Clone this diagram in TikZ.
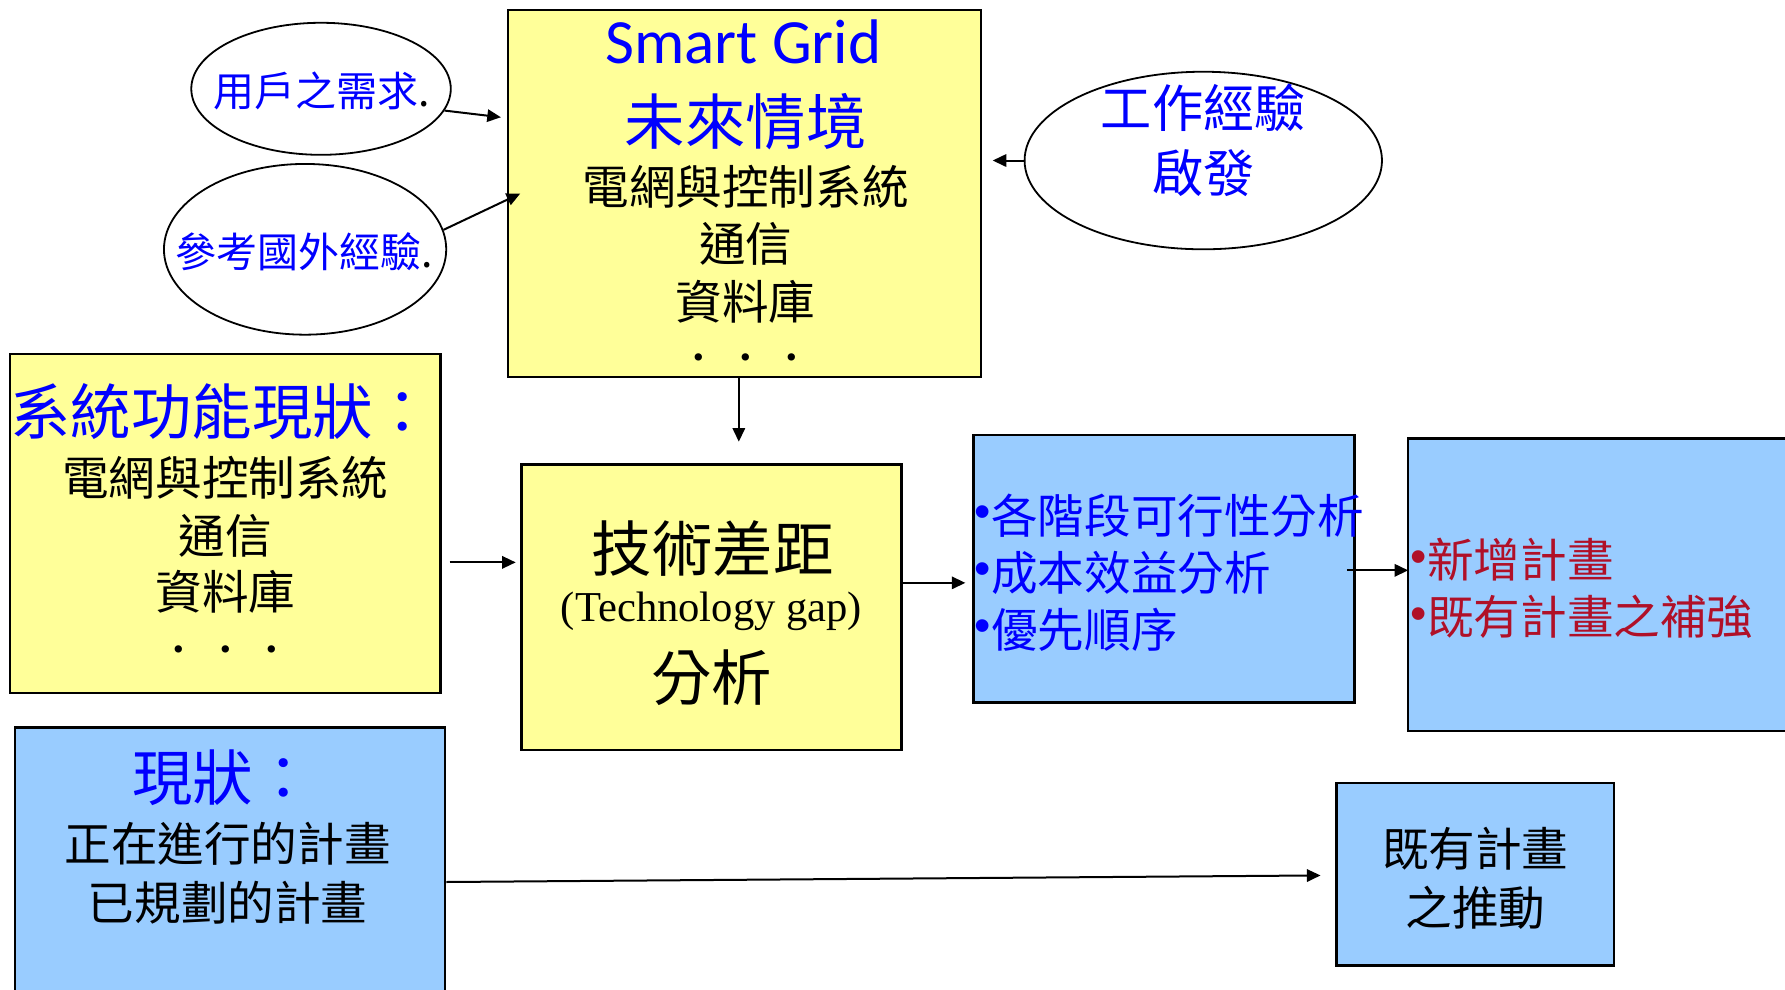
\documentclass[tikz,border=0pt]{standalone}
\usepackage{fontspec}
\newfontfamily\cjkfont{Noto Sans CJK TC}
\newfontfamily\calibrifont{Carlito}
\newfontfamily\timesfont{Liberation Serif}
\newfontfamily\arialfont{Liberation Sans}
\usetikzlibrary{arrows.meta,shapes.geometric}
\definecolor{boxyellow}{RGB}{255,255,153}
\definecolor{boxblue}{RGB}{153,204,255}
\definecolor{planred}{RGB}{176,16,40}
\newcommand\dotitem{{\arialfont\raisebox{0.12em}{•}}}
\tikzset{
  ybox/.style={draw=black, line width=1.2pt, fill=boxyellow},
  bbox/.style={draw=black, line width=1.2pt, fill=boxblue},
  oval/.style={ellipse, draw, line width=0.9pt},
  txt/.style={inner sep=0pt, font=\cjkfont\fontsize{23.3}{28}\selectfont},
  small/.style={inner sep=0pt, text=blue, font=\cjkfont\fontsize{20.5}{24}\selectfont},
  head/.style={inner sep=0pt, text=blue, font=\cjkfont\fontsize{30.2}{36}\selectfont},
  arr/.style={-{Triangle[length=6.8pt,width=6.2pt]}, line width=1pt}
}
\begin{document}
\begin{tikzpicture}[x=0.02cm,y=-0.02cm]
  \useasboundingbox (0,0) rectangle (1568,869);
  \clip (0,0) rectangle (1568,869);

  \node[ybox, minimum width=8.32cm, minimum height=6.44cm] (grid) at (654,170) {};
  \node[ybox, minimum width=7.56cm, minimum height=5.96cm] (status) at (198,460) {};
  \node[ybox, minimum width=6.68cm, minimum height=5.02cm] (gap) at (625,533.5) {};
  \node[bbox, minimum width=6.70cm, minimum height=4.70cm] (analysis) at (1022.5,499.5) {};
  \node[bbox, minimum width=7.26cm, minimum height=5.14cm] (plans) at (1418.5,513.5) {};
  \node[bbox, minimum width=7.56cm, minimum height=5.22cm] (current) at (202,769.5) {};
  \node[bbox, minimum width=4.88cm, minimum height=3.20cm] (promote) at (1296,768) {};
  \node[oval, minimum width=4.56cm, minimum height=2.32cm] (need) at (282,78) {};
  \node[oval, minimum width=4.96cm, minimum height=3.00cm] (abroad) at (268,219) {};
  \node[oval, minimum width=6.28cm, minimum height=3.12cm] (work) at (1057,141) {};

  \node[inner sep=0pt, text=blue, font=\calibrifont\fontsize{31.5}{36}\selectfont] (gridtitle) at (653,37) {Smart Grid};
  \node[head] (future) at (655,107) {未來情境};
  \node[txt] (gridnet) at (655,164) {電網與控制系統};
  \node[txt] (gridcom) at (655,214) {通信};
  \node[txt] (griddb) at (655,265) {資料庫};
  \node[txt] (griddots) at (655,320) {．．．};

  \node[small] (needtxt) at (283,80) {用戶之需求{\color{black}.}};
  \node[small] (abroadtxt) at (267,221) {參考國外經驗{\color{black}.}};
  \node[small, font=\cjkfont\fontsize{25.6}{30}\selectfont] (worktxt) at (1057,95) {工作經驗};
  \node[small, font=\cjkfont\fontsize{25.6}{30}\selectfont] (hinttxt) at (1057,152) {啟發};

  \node[head] (statustitle) at (195,362) {系統功能現狀：};
  \node[txt] (statusnet) at (198,420) {電網與控制系統};
  \node[txt] (statuscom) at (198,471) {通信};
  \node[txt] (statusdb) at (198,520) {資料庫};
  \node[txt] (statusdots) at (198,577) {．．．};

  \node[head, text=black] (gaptitle) at (626,482) {技術差距};
  \node[inner sep=0pt, font=\timesfont\fontsize{21.3}{26}\selectfont] (gapen) at (625,537) {(Technology gap)};
  \node[head, text=black] (gapsub) at (625,595) {分析};

  \node[txt, text=blue, anchor=west] (stages) at (856,453) {\dotitem 各階段可行性分析};
  \node[txt, text=blue, anchor=west] (cost) at (856,503) {\dotitem 成本效益分析};
  \node[txt, text=blue, anchor=west] (order) at (856,553) {\dotitem 優先順序};

  \node[txt, text=planred, anchor=west] (newplan) at (1239,492) {\dotitem 新增計畫};
  \node[txt, text=planred, anchor=west] (oldplan) at (1239,542) {\dotitem 既有計畫之補強};

  \node[head] (currenttitle) at (196,683) {現狀：};
  \node[txt] (running) at (200,741) {正在進行的計畫};
  \node[txt] (planned) at (200,793) {已規劃的計畫};

  \node[txt] (promote1) at (1296,746) {既有計畫};
  \node[txt] (promote2) at (1296,797) {之推動};

  \coordinate (needtip) at (440,103);
  \coordinate (abroadtip) at (457,170);
  \coordinate (worktip) at (872,141);
  \coordinate (gridtip) at (649,388);
  \coordinate (statustip) at (453,494);
  \coordinate (gaptip) at (848,512);
  \coordinate (planstip) at (1237,501);
  \coordinate (promotetip) at (1160,769);

  \draw[arr] (need.-10) -- (needtip);
  \draw[arr] (abroad.8) -- (abroadtip);
  \draw[arr] (work.west) -- (worktip);
  \draw[arr] (grid.south -| gridtip) -- (gridtip);
  \draw[arr, shorten <=4pt] (status.east |- statustip) -- (statustip);
  \draw[arr] (gap.east |- gaptip) -- (gaptip);
  \draw[arr, shorten <=-4.5pt] (analysis.east |- planstip) -- (planstip);
  \draw[arr] ([yshift=-3pt]current.east) -- (promotetip);
\end{tikzpicture}
\end{document}
